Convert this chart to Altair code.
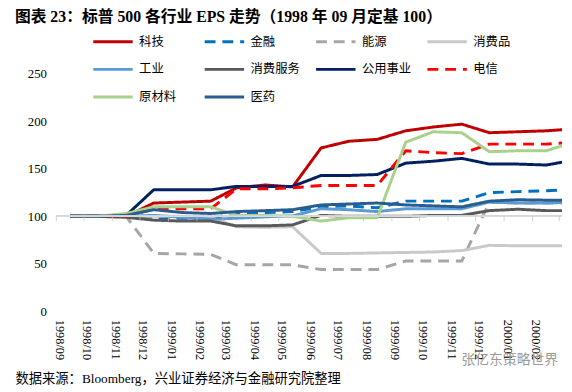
import altair as alt
import pandas as pd

# ---- data ----
months = ["1998/09", "1998/10", "1998/11", "1998/12", "1999/01", "1999/02", "1999/03",
          "1999/04", "1999/05", "1999/06", "1999/07", "1999/08", "1999/09", "1999/10",
          "1999/11", "1999/12", "2000/01", "2000/02", "2000/03"]
tick_labels = months[:18]

series = ["科技", "金融", "能源", "消费品", "工业", "消费服务", "公用事业", "电信", "原材料", "医药"]

tech       = [100, 100, 100, 114, 115, 116, 130, 133, 131, 172, 179, 181, 190, 194, 197, 188, 189, 190, 192]
finance    = [100, 100, 100, 99, 98, 98, 103, 104, 105, 110, 111, 109, 116, 116, 116, 125, 126, 127, 128]
energy     = [100, 100, 100, 61, 60.5, 60, 49, 49, 49, 44, 44, 44, 53, 53, 53, 115, 114, 114, 114]
staples    = [100, 100, 100, 100, 100, 99, 89, 88.5, 89, 61, 61, 61.5, 62, 62.5, 64, 69.5, 69, 69, 69]
industrial = [100, 100, 100, 101, 99, 97, 98, 99.5, 100.5, 108, 107, 105, 108, 108, 108, 115, 114, 114, 115]
services   = [100, 100, 99, 96, 95, 95, 90, 90, 91, 101, 100, 100, 100, 101, 101, 106, 107.5, 106, 106]
utilities  = [100, 100, 101, 128, 128, 128, 131.5, 131.5, 131.5, 143, 143, 144, 156, 158, 161, 155, 155, 154, 159]
telecom    = [100, 100, 100, 108, 108, 108, 129, 129, 130, 132.5, 132.5, 132.5, 169, 167, 166, 176, 176, 176, 178]
materials  = [100, 100, 103, 110, 110, 110, 101, 101, 100, 95, 98.5, 98.5, 178, 189, 188, 168, 169, 169, 178]
health     = [100, 100, 101, 107, 104, 103, 105, 106, 107, 112, 113, 114, 112, 111, 110, 116, 117.5, 117, 117]

values = [tech, finance, energy, staples, industrial, services, utilities, telecom, materials, health]

colors = ["#c00000", "#0070c0", "#a6a6a6", "#c9c9c9", "#5b9bd5", "#595959", "#002060", "#ff0000", "#a9d18e", "#2a5d8f"]
dashes = [[1, 0], [11, 7], [11, 7], [1, 0], [1, 0], [1, 0], [1, 0], [11, 7], [1, 0], [1, 0]]
widths = [3, 3, 3, 3, 4.5, 3, 2.5, 3, 3, 4.5]

title_text = "图表 23：标普 500 各行业 EPS 走势（1998 年 09 月定基 100）"
source_text = "数据来源：Bloomberg，兴业证券经济与金融研究院整理"
watermark_text = "张亿东策略世界"

rows = []
for name, vals in zip(series, values):
    for m, v in zip(months, vals):
        rows.append({"date": m + "/16", "series": name, "value": v})
df = pd.DataFrame(rows)

tick_df = pd.DataFrame({"date": [m + "/01" for m in months]})

serif = "Liberation Serif, Noto Sans CJK SC"
cjk = "Noto Sans CJK SC"

legend = alt.Legend(
    title=None, orient="none", legendX=36, legendY=-54, columns=4, gridAlign="all",
    direction="horizontal",
    symbolType="stroke", symbolSize=1600, labelFont=cjk, labelFontSize=12.5,
    labelColor="black", labelOffset=5, columnPadding=9, rowPadding=-3, padding=0,
)

x_axis = alt.Axis(
    values=[alt.DateTime(year=int(m[:4]), month=int(m[5:]), date=1) for m in tick_labels],
    format="%Y/%m", labelAngle=90, labelFont=serif, labelFontSize=12.5,
    labelColor="black", labelPadding=8, labelOverlap=False, labelFlush=False,
    labelBound=False, labelSeparation=0, labelOffset=3,
    domain=False, ticks=False, grid=False,
    title=source_text, titleX=-42, titleY=68, titleAlign="left",
    titleBaseline="middle", titleAngle=0, titleFont=serif, titleFontSize=13.5,
    titleFontWeight="normal", titleColor="black",
)
x_scale = alt.Scale(domain=[alt.DateTime(year=1998, month=9, date=1),
                            alt.DateTime(year=2000, month=3, date=4)])
x_enc = alt.X("date:T", scale=x_scale, axis=x_axis)
y_enc = alt.Y(
    "value:Q",
    scale=alt.Scale(domain=[0, 250], nice=False),
    axis=alt.Axis(values=[0, 50, 100, 150, 200, 250], labelFont=serif, labelFontSize=13,
                  labelColor="black", ticks=False, domain=False, grid=False, title=None,
                  labelPadding=10),
)

base = alt.Chart(df).mark_line(clip=True, strokeJoin="round").encode(
    x=x_enc,
    y=y_enc,
    color=alt.Color("series:N", scale=alt.Scale(domain=series, range=colors), legend=legend),
    strokeDash=alt.StrokeDash("series:N", scale=alt.Scale(domain=series, range=dashes), legend=legend),
    strokeWidth=alt.StrokeWidth("series:N", scale=alt.Scale(domain=series, range=widths), legend=legend),
)
lines = [base.transform_filter(alt.datum.series == s) for s in series]

rule = alt.Chart(tick_df).mark_rule(color="#d9d9d9", strokeWidth=1).encode(y=alt.datum(100))
ticks = alt.Chart(tick_df).mark_tick(orient="vertical", size=5, thickness=1, color="#bfbfbf",
                                     yOffset=2.5).encode(x=x_enc, y=alt.datum(100))

wm = alt.Chart(pd.DataFrame({"t": [watermark_text]})).mark_text(
    font=cjk, fontSize=14, color="#9a9a9a", align="center", baseline="middle"
).encode(text="t:N", x=alt.value(460), y=alt.value(290))

chart = alt.layer(*lines, rule, ticks, wm).properties(
    width=513, height=241,
    title=alt.TitleParams(title_text, anchor="start", frame="group", dx=-42, dy=8, font=serif,
                          fontSize=16, fontWeight="bold", color="black"),
    padding={"left": 49, "top": 64, "right": 2, "bottom": 76},
    autosize=alt.AutoSizeParams(type="none"),
    background="white",
).configure_view(stroke=None)

chart.save("out.html", embed_options={"renderer": "svg", "actions": False})
